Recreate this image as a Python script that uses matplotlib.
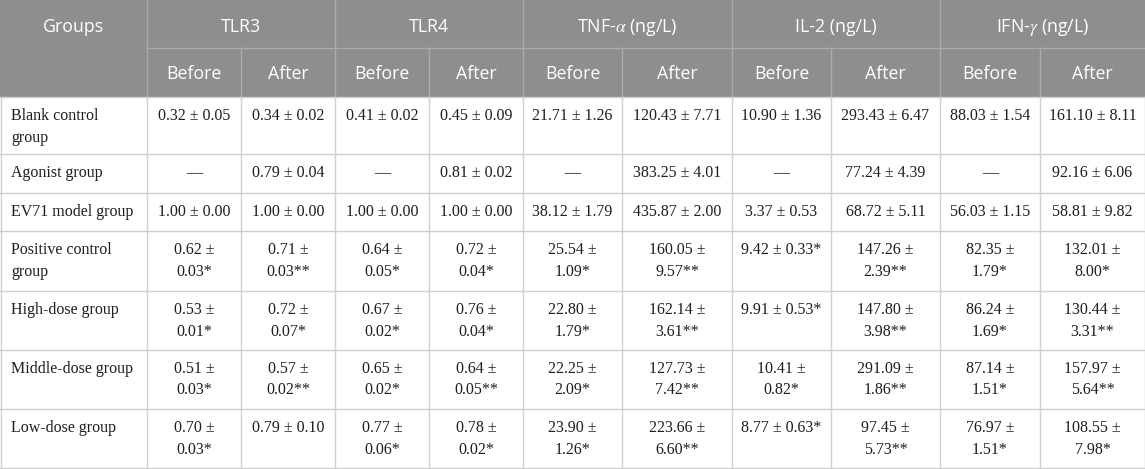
import matplotlib
matplotlib.use("Agg")
import matplotlib.pyplot as plt
from matplotlib.patches import Rectangle

plt.rcParams['mathtext.fontset'] = 'stix'

# table content
groups = ["Blank control\ngroup", "Agonist group", "EV71 model group",
          "Positive control\ngroup", "High-dose group", "Middle-dose group",
          "Low-dose group"]
markers = ["TLR3", "TLR4", "TNF-$\\alpha$ (ng/L)", "IL-2 (ng/L)", "IFN-$\\gamma$ (ng/L)"]
phases = ["Before", "After"]

blank_row = ["0.32 ± 0.05", "0.34 ± 0.02", "0.41 ± 0.02", "0.45 ± 0.09",
             "21.71 ± 1.26", "120.43 ± 7.71", "10.90 ± 1.36", "293.43 ± 6.47",
             "88.03 ± 1.54", "161.10 ± 8.11"]
agonist_row = ["—", "0.79 ± 0.04", "—", "0.81 ± 0.02", "—", "383.25 ± 4.01",
               "—", "77.24 ± 4.39", "—", "92.16 ± 6.06"]
model_row = ["1.00 ± 0.00", "1.00 ± 0.00", "1.00 ± 0.00", "1.00 ± 0.00",
             "38.12 ± 1.79", "435.87 ± 2.00", "3.37 ± 0.53", "68.72 ± 5.11",
             "56.03 ± 1.15", "58.81 ± 9.82"]
positive_row = ["0.62 ±\n0.03*", "0.71 ±\n0.03**", "0.64 ±\n0.05*", "0.72 ±\n0.04*",
                "25.54 ±\n1.09*", "160.05 ±\n9.57**", "9.42 ± 0.33*", "147.26 ±\n2.39**",
                "82.35 ±\n1.79*", "132.01 ±\n8.00*"]
high_row = ["0.53 ±\n0.01*", "0.72 ±\n0.07*", "0.67 ±\n0.02*", "0.76 ±\n0.04*",
            "22.80 ±\n1.79*", "162.14 ±\n3.61**", "9.91 ± 0.53*", "147.80 ±\n3.98**",
            "86.24 ±\n1.69*", "130.44 ±\n3.31**"]
middle_row = ["0.51 ±\n0.03*", "0.57 ±\n0.02**", "0.65 ±\n0.02*", "0.64 ±\n0.05**",
              "22.25 ±\n2.09*", "127.73 ±\n7.42**", "10.41 ±\n0.82*", "291.09 ±\n1.86**",
              "87.14 ±\n1.51*", "157.97 ±\n5.64**"]
low_row = ["0.70 ±\n0.03*", "0.79 ± 0.10", "0.77 ±\n0.06*", "0.78 ±\n0.02*",
           "23.90 ±\n1.26*", "223.66 ±\n6.60**", "8.77 ± 0.63*", "97.45 ±\n5.73**",
           "76.97 ±\n1.51*", "108.55 ±\n7.98*"]
rows = [blank_row, agonist_row, model_row, positive_row, high_row, middle_row, low_row]

# layout in pixels
W, H = 1145, 469
col_x = [0, 147, 241, 335, 429, 523, 622, 732, 831, 940, 1040, 1145]
row_y = [97, 154, 193, 231, 291, 350, 409, 468]
h1, h2 = 48, 97

head_bg = "#8e8e8e"
head_line = "#ababab"
body_line = "#cfcfcf"
txt_col = "#1e1e1e"
serif = "Liberation Serif"
sans = "Open Sans"

fig = plt.figure(figsize=(W / 100, H / 100), dpi=100)
ax = fig.add_axes([0, 0, 1, 1])
ax.set_xlim(0, W)
ax.set_ylim(H, 0)
ax.axis('off')

# header background
ax.add_patch(Rectangle((0, 0), W, h2, facecolor=head_bg, edgecolor='none'))
ax.plot([col_x[1], W], [h1, h1], color=head_line, lw=1)
for i in range(1, len(col_x) - 1):
    top = 0 if i % 2 == 1 else h1
    ax.plot([col_x[i], col_x[i]], [top, h2], color=head_line, lw=1)

# header text
ax.text(col_x[1] / 2, 32, "Groups", ha='center', va='baseline',
        fontsize=12.8, family=sans, color='white')
for k, m in enumerate(markers):
    x0, x1 = col_x[1 + 2 * k], col_x[3 + 2 * k]
    ax.text((x0 + x1) / 2, 32, m, ha='center', va='baseline',
            fontsize=12.8, family=sans, color='white')
    for j, p in enumerate(phases):
        a, b = col_x[1 + 2 * k + j], col_x[2 + 2 * k + j]
        ax.text((a + b) / 2, 79, p, ha='center', va='baseline',
                fontsize=12.8, family=sans, color='white')

# body grid
for y in row_y:
    ax.plot([0, W], [y, y], color=body_line, lw=1)
for x in col_x:
    xx = min(max(x, 0.5), W - 0.5)
    ax.plot([xx, xx], [h2, row_y[-1]], color=body_line, lw=1)

# body text
def put(x, top, s, ha):
    for i, line in enumerate(s.split("\n")):
        ax.text(x, top + 23 + 21.5 * i, line, ha=ha, va='baseline',
                fontsize=11.5, family=serif, color=txt_col)

for r, (g, vals) in enumerate(zip(groups, rows)):
    top = row_y[r]
    put(11, top, g, 'left')
    for c, v in enumerate(vals):
        put((col_x[c + 1] + col_x[c + 2]) / 2, top, v, 'center')

fig.savefig("out.png", dpi=100)
